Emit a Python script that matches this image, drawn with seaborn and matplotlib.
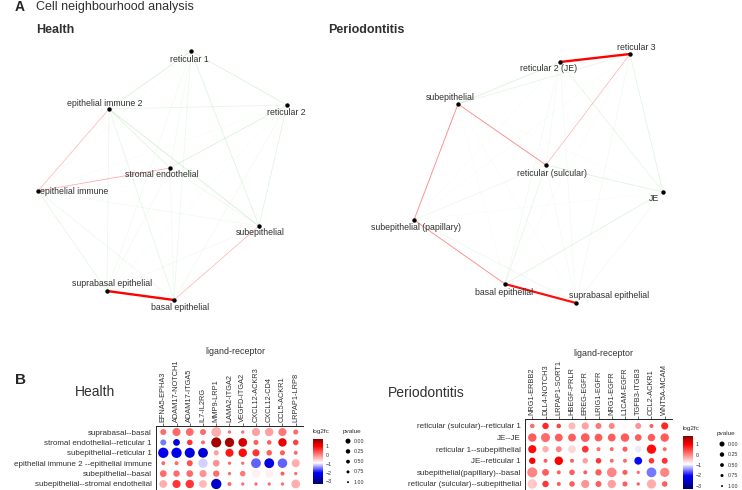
import numpy as np
import pandas as pd
import matplotlib as mpl
import matplotlib.pyplot as plt
import seaborn as sns

# ---------------- Panel A: cell neighbourhood graphs ----------------
# node layout (graph layout coordinates) and edge weights (+ = red, - = green)
health_nodes = ["reticular 1", "epithelial immune 2", "reticular 2", "stromal endothelial",
                "epithelial immune", "subepithelial", "suprabasal epithelial", "basal epithelial"]
health_x = [191, 109, 287, 170, 38, 259, 107, 174]
health_y = [51, 109, 105, 168, 191, 226, 291, 300]
health_src = [0, 0, 0, 0, 0, 0, 0, 1, 1, 1, 1, 1, 1, 2, 2, 2, 2, 2, 3, 3, 3, 3, 4, 4, 4, 5, 5, 6]
health_dst = [1, 2, 3, 4, 5, 6, 7, 2, 3, 4, 5, 6, 7, 3, 4, 5, 6, 7, 4, 5, 6, 7, 5, 6, 7, 6, 7, 7]
health_w = [-0.3, -0.3, -0.1, -0.05, -0.25, -0.1, -0.15,
            -0.2, -0.25, 0.3, -0.35, -0.15, -0.2,
            -0.3, -0.05, -0.25, -0.05, -0.1,
            0.35, -0.15, -0.1, -0.1,
            -0.1, -0.2, -0.15,
            -0.1, 0.3,
            1.0]

perio_nodes = ["reticular 3", "reticular 2 (JE)", "subepithelial", "reticular (sulcular)",
               "JE", "subepithelial (papillary)", "basal epithelial", "suprabasal epithelial"]
perio_x = [630, 560, 458, 546, 663, 414, 505, 576]
perio_y = [54, 62, 104, 165, 192, 220, 284, 303]
perio_src = [0, 0, 0, 0, 0, 0, 0, 1, 1, 1, 1, 1, 1, 2, 2, 2, 2, 2, 3, 3, 3, 3, 4, 4, 4, 5, 5, 6]
perio_dst = [1, 2, 3, 4, 5, 6, 7, 2, 3, 4, 5, 6, 7, 3, 4, 5, 6, 7, 4, 5, 6, 7, 5, 6, 7, 6, 7, 7]
perio_w = [1.0, -0.2, 0.3, -0.25, -0.05, -0.05, -0.1,
           -0.3, -0.1, -0.2, -0.05, -0.1, -0.1,
           0.45, -0.05, 0.45, -0.05, -0.05,
           -0.25, -0.15, -0.2, -0.1,
           -0.05, -0.25, -0.1,
           0.45, -0.15,
           0.95]

# label placement relative to node (dx, dy, alignment)
health_lab = [(-2, 8, "center"), (-4, -6, "center"), (-1, 7, "center"), (-8, 6, "center"),
              (2, 0, "left"), (1, 6, "center"), (5, -8, "center"), (6, 7, "center")]
perio_lab = [(6, -7, "center"), (-11, 6, "center"), (-8, -7, "center"), (6, 8, "center"),
             (-9, 6, "center"), (2, 7, "center"), (-1, 8, "center"), (-7, -8, "left")]

# ---------------- Panel B: ligand-receptor dot plots ----------------
health_pairs = ["EFNA5-EPHA3", "ADAM17-NOTCH1", "ADAM17-ITGA5", "IL7-IL2RG", "MMP9-LRP1",
                "LAMA2-ITGA2", "VEGFD-ITGA2", "CXCL12-ACKR3", "CXCL12-CD4", "CCL5-ACKR1",
                "LRPAP1-LRP8"]
health_rows = ["suprabasal--basal", "stromal endothelial--reticular 1",
               "subepithelial--reticular 1", "epithelial immune 2 --epithelial immune",
               "subepithelial--basal", "subepithelial--stromal endothelial"]
health_log2fc = [
    [0.2, 0.2, 0.2, 0.2, -0.3, 0.2, 0.2, -0.2, -0.2, 0.1, 0.2],
    [-1.5, -2.2, 0.6, 0.2, 1.6, 1.6, 1.3, 0.3, 0.3, 1.1, 0.5],
    [-2.2, -2.2, -2.3, -2.4, -0.2, 0.8, 0.9, 0.6, 0.3, 0.3, 0.2],
    [0.2, 0.2, 0.4, -1.1, -0.1, 0.2, 0.2, -1.6, -2.3, -1.6, -0.3],
    [0.2, 0.2, 0.2, -0.1, 0.2, 0.2, 0.1, -0.8, -0.8, 0.3, 0.2],
    [-0.3, 0.6, 0.6, -0.4, -2.5, 0.2, 0.2, 0.2, 0.2, 0.2, -0.3],
]
health_pvalue = [
    [0.7, 0.4, 0.45, 0.7, 0.1, 0.95, 0.95, 0.4, 0.35, 0.4, 0.8],
    [0.7, 0.6, 0.75, 0.9, 0.05, 0.2, 0.3, 0.8, 0.85, 0.35, 0.75],
    [0.0, 0.0, 0.05, 0.1, 0.8, 0.4, 0.35, 0.55, 0.75, 0.8, 0.9],
    [0.9, 0.9, 0.7, 0.2, 0.6, 0.95, 0.95, 0.1, 0.1, 0.15, 0.4],
    [0.6, 0.65, 0.6, 0.55, 0.65, 0.95, 0.75, 0.3, 0.35, 0.9, 0.95],
    [0.45, 0.4, 0.35, 0.45, 0.0, 0.9, 0.95, 0.95, 0.95, 0.95, 0.3],
]

perio_pairs = ["NRG1-ERBB2", "DLL4-NOTCH3", "LRPAP1-SORT1", "HBEGF-PRLR", "EREG-EGFR",
               "LRIG1-EGFR", "NRG1-EGFR", "L1CAM-EGFR", "TGFB3-ITGB3", "CCL2-ACKR1",
               "WNT5A-MCAM"]
perio_rows = ["reticular (sulcular)--reticular 1", "JE--JE", "reticular 1--subepithelial",
              "JE--reticular 1", "subepithelial(papillary)--basal",
              "reticular (sulcular)--subepithelial"]
perio_log2fc = [
    [0.2, 0.7, 0.5, -0.4, -0.2, 0.1, 0.0, -0.85, -0.1, 0.3, 0.7],
    [0.3, 0.2, 0.3, 0.3, 0.3, 0.3, 0.3, 0.3, 0.3, 0.3, 0.3],
    [0.9, -0.3, 0.0, -0.6, 0.6, 0.2, 0.2, 0.3, -1.0, 0.9, 0.2],
    [1.0, 0.3, 1.0, 0.3, -0.2, 0.6, 0.2, 0.2, -2.0, 0.6, 0.6],
    [0.0, 0.3, 0.3, 0.3, 0.3, 0.3, 0.0, 0.3, 0.2, -1.5, 0.0],
    [-0.5, 0.6, 0.3, 0.3, -0.1, 0.3, -0.2, 0.3, 0.3, -0.3, 0.3],
]
perio_pvalue = [
    [0.85, 0.65, 0.85, 0.55, 0.55, 0.7, 0.7, 0.7, 0.7, 0.9, 0.55],
    [0.35, 0.25, 0.45, 0.45, 0.3, 0.45, 0.45, 0.35, 0.6, 0.5, 0.35],
    [0.4, 0.65, 0.7, 0.45, 0.6, 0.9, 0.9, 0.8, 0.6, 0.2, 0.9],
    [0.65, 0.9, 0.35, 0.9, 0.75, 0.75, 0.9, 0.9, 0.45, 0.75, 0.7],
    [0.05, 0.6, 0.9, 0.75, 0.9, 0.65, 0.15, 0.8, 0.95, 0.1, 0.2],
    [0.15, 0.65, 0.9, 0.75, 0.4, 0.7, 0.35, 0.8, 0.95, 0.2, 0.75],
]

legend_p = [0.0, 0.25, 0.5, 0.75, 1.0]
cbar_ticks = [1, 0, -1, -2, -3]

sns.set_style("white")
plt.rcParams["font.family"] = ["Liberation Sans", "DejaVu Sans"]

W, H = 742, 490
fc_cmap = mpl.colors.LinearSegmentedColormap.from_list(
    "fc", [(0.0, "#00006e"), (0.25, "#0000ff"), (0.47, "#ffffff"), (0.84, "#ff0000"), (1.0, "#8b0000")])
fc_norm = mpl.colors.Normalize(vmin=-3.3, vmax=1.8)
text_col = "#303030"

fig = plt.figure(figsize=(W / 100, H / 100), dpi=100)


def px_rect(left, top, width, height):
    return [left / W, 1 - (top + height) / H, width / W, height / H]


def draw_network(ax, nodes, x, y, src, dst, wts, labels):
    # green edges first, strong red ones end up on top
    for s, d, w in sorted(zip(src, dst, wts), key=lambda e: abs(e[2]) + (2 if e[2] > 0 else 0)):
        if w > 0:
            color, alpha, lw = "#ff0000", w, 0.4 + 1.3 * w ** 2
        else:
            color, alpha, lw = "#7ccd7c", 0.9 * abs(w), 0.6
        ax.plot([x[s], x[d]], [y[s], y[d]], color=color, alpha=alpha, lw=lw,
                solid_capstyle="butt", zorder=1)
    sns.scatterplot(x=x, y=y, color="black", s=10, linewidth=0, ax=ax, zorder=3)
    for name, xi, yi, (dx, dy, ha) in zip(nodes, x, y, labels):
        ax.text(xi + dx, yi + dy, name, fontsize=6.3, ha=ha, va="center", color=text_col, zorder=4)
    ax.axis("off")


def draw_dotplot(ax, pairs, rows, fc, pv, ylim):
    df = pd.DataFrame({
        "pair": np.tile(np.arange(len(pairs)), len(rows)),
        "row": np.repeat(np.arange(len(rows)), len(pairs)),
        "log2fc": np.ravel(fc),
        "pvalue": np.ravel(pv),
    })
    df["sig"] = 1 - df["pvalue"]
    sns.scatterplot(data=df, x="pair", y="row", hue="log2fc", palette=fc_cmap, hue_norm=fc_norm,
                    size="sig", sizes=(3, 55), size_norm=(0, 1), linewidth=0, legend=False, ax=ax)
    ax.set_xlim(-0.55, len(pairs) - 0.45)
    ax.set_ylim(*ylim)
    ax.xaxis.tick_top()
    ax.set_xticks(range(len(pairs)))
    ax.set_xticklabels(pairs, rotation=90, fontsize=5.3)
    ax.set_yticks(range(len(rows)))
    ax.set_yticklabels(rows, fontsize=5.8)
    ax.set_xlabel("")
    ax.set_ylabel("")
    ax.tick_params(length=2, width=0.5, pad=1, color=text_col, labelcolor=text_col)
    for side in ["right", "bottom"]:
        ax.spines[side].set_visible(False)
    for side in ["left", "top"]:
        ax.spines[side].set_linewidth(0.7)
        ax.spines[side].set_color("#222222")


def draw_colorbar(left, top, height):
    cax = fig.add_axes(px_rect(left, top, 10, height))
    cb = fig.colorbar(mpl.cm.ScalarMappable(norm=fc_norm, cmap=fc_cmap), cax=cax)
    cb.outline.set_visible(False)
    cb.set_ticks(cbar_ticks)
    cax.tick_params(length=0, labelsize=3.8, pad=2, labelcolor=text_col)
    fig.text(left / W, 1 - (top - 8) / H, "log2fc", fontsize=4.6, va="center", color=text_col)


def draw_size_legend(left, top, unit):
    # y axis in pvalue units, `unit` pixels per 1.0
    lax = fig.add_axes(px_rect(left, top, 32, 1.47 * unit))
    leg = pd.DataFrame({"p": legend_p, "x": 8.0})
    leg["sig"] = 1 - leg["p"]
    sns.scatterplot(data=leg, x="x", y="p", size="sig", sizes=(2, 13), size_norm=(0, 1),
                    color="black", linewidth=0, legend=False, ax=lax)
    for p in legend_p:
        lax.text(14, p, f"{p:.2f}", fontsize=3.8, va="center", color=text_col)
    lax.text(3, -0.24, "pvalue", fontsize=4.6, va="center", color=text_col)
    lax.set_xlim(0, 32)
    lax.set_ylim(1.15, -0.32)
    lax.axis("off")


# panel A
ax_h = fig.add_axes(px_rect(0, 30, 371, 300))
ax_h.set_xlim(0, 371)
ax_h.set_ylim(330, 30)
draw_network(ax_h, health_nodes, health_x, health_y, health_src, health_dst, health_w, health_lab)

ax_p = fig.add_axes(px_rect(371, 30, 371, 300))
ax_p.set_xlim(371, 742)
ax_p.set_ylim(330, 30)
draw_network(ax_p, perio_nodes, perio_x, perio_y, perio_src, perio_dst, perio_w, perio_lab)

fig.text(15 / W, 1 - 7 / H, "A", fontsize=10, weight="bold", va="center")
fig.text(36 / W, 1 - 7 / H, "Cell neighbourhood analysis", fontsize=9, va="center", color=text_col)
fig.text(36 / W, 1 - 30 / H, "Health", fontsize=9, weight="bold", va="center", color=text_col)
fig.text(328 / W, 1 - 30 / H, "Periodontitis", fontsize=9, weight="bold", va="center", color=text_col)

# panel B
ax_hd = fig.add_axes(px_rect(156, 426, 147, 64))
draw_dotplot(ax_hd, health_pairs, health_rows, health_log2fc, health_pvalue, (5.58, -0.58))
ax_pd = fig.add_axes(px_rect(525, 419, 147, 71))
draw_dotplot(ax_pd, perio_pairs, perio_rows, perio_log2fc, perio_pvalue, (5.52, -0.6))

fig.text(15 / W, 1 - 380 / H, "B", fontsize=11, weight="bold", va="center")
fig.text(75 / W, 1 - 392 / H, "Health", fontsize=10, va="center", color=text_col)
fig.text(388 / W, 1 - 393 / H, "Periodontitis", fontsize=10, va="center", color=text_col)
fig.text(235 / W, 1 - 352 / H, "ligand-receptor", fontsize=6.4, ha="center", va="center", color=text_col)
fig.text(603 / W, 1 - 354 / H, "ligand-receptor", fontsize=6.4, ha="center", va="center", color=text_col)

draw_colorbar(313, 439, 45)
draw_colorbar(683, 436, 53)
draw_size_legend(340, 428, 41)
draw_size_legend(714, 430.6, 42)

fig.savefig("out.png", dpi=100)
